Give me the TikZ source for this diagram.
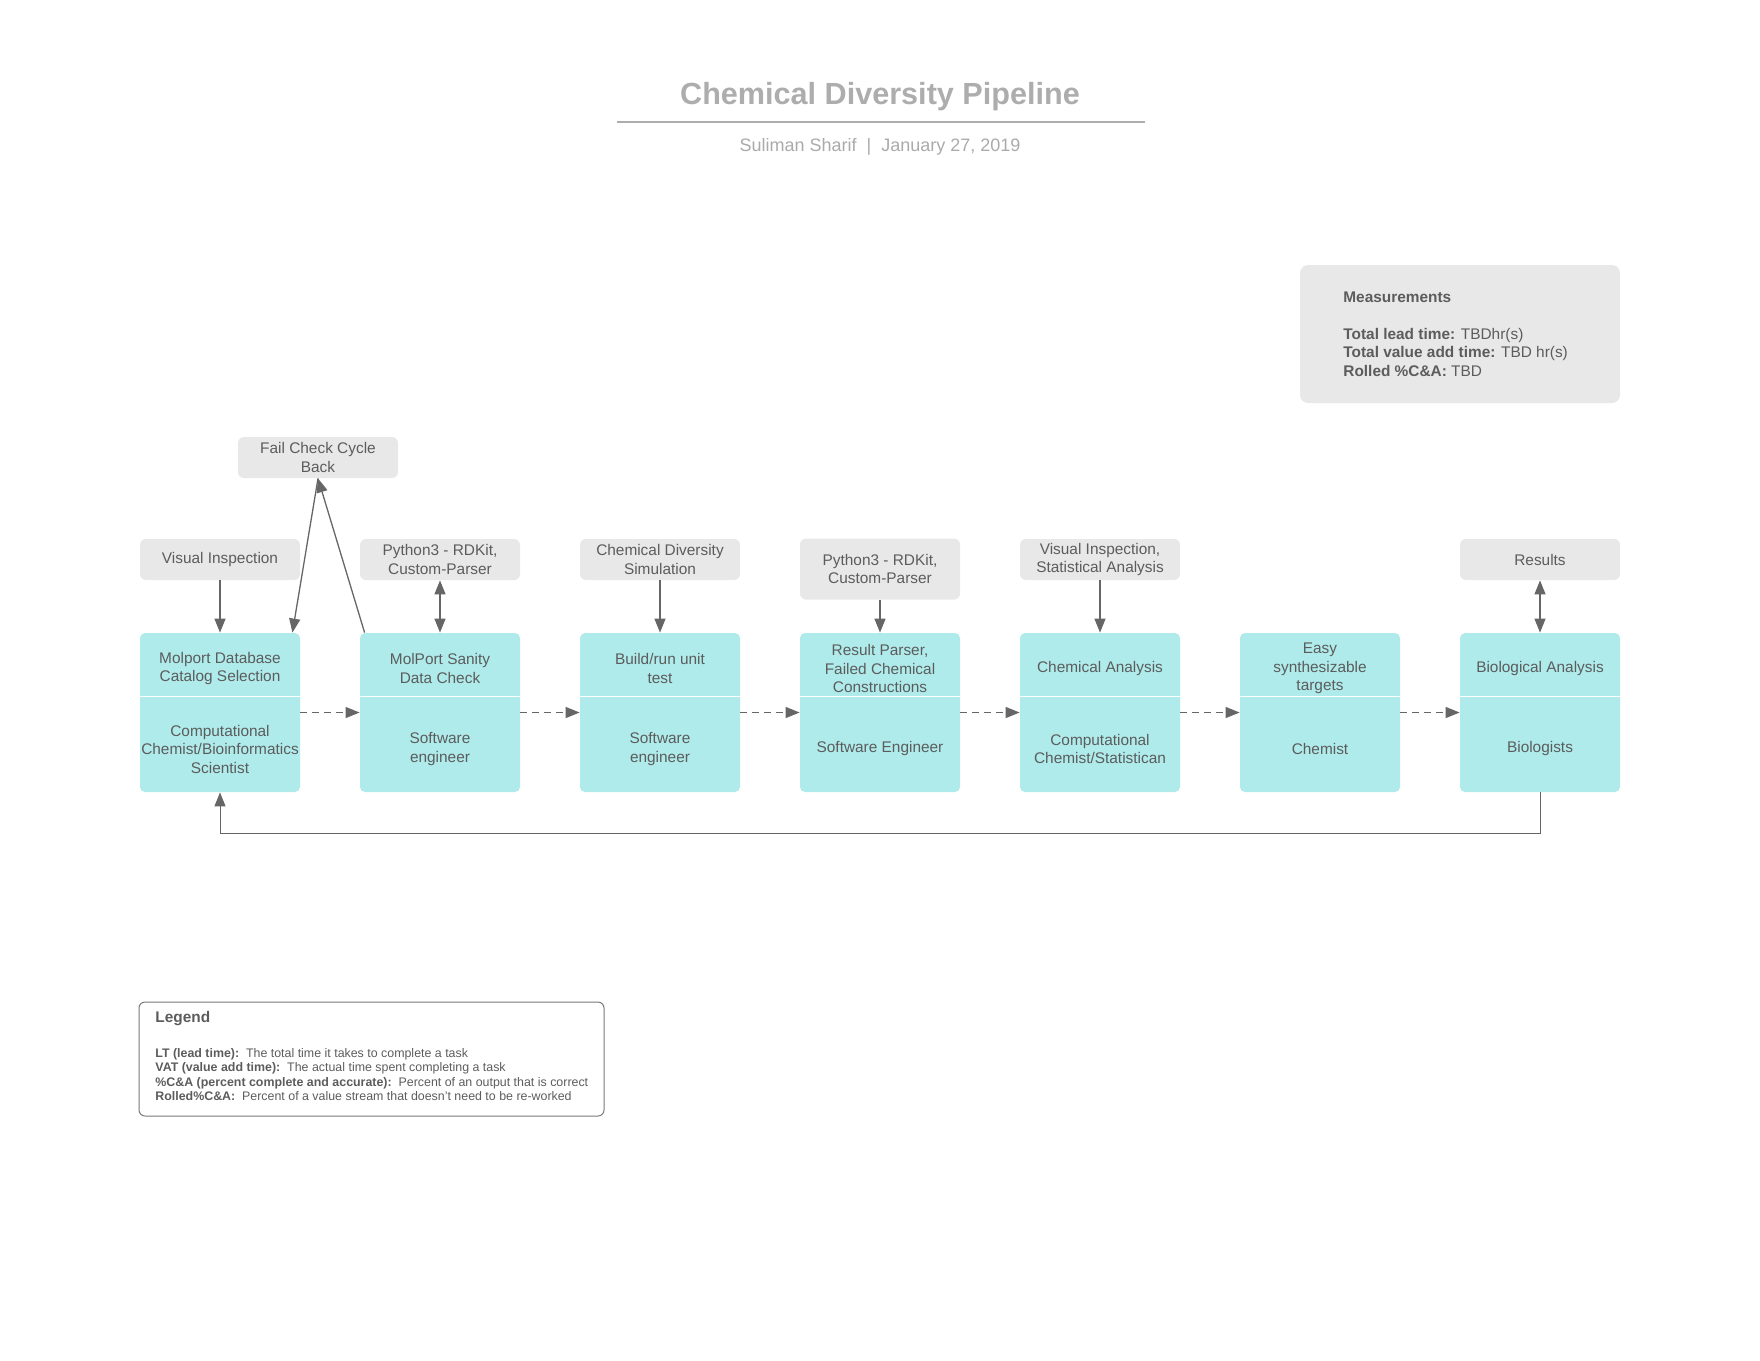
\documentclass[tikz,border=0pt]{standalone}
\usepackage{fontspec}
\setmainfont{Liberation Sans}
\usetikzlibrary{arrows.meta,calc}

\definecolor{boxteal}{RGB}{175,235,235}
\definecolor{infogray}{RGB}{232,232,232}
\definecolor{txtgray}{RGB}{92,92,92}
\definecolor{linegray}{RGB}{102,102,102}
\definecolor{titlegray}{RGB}{173,173,173}
\definecolor{subgray}{RGB}{170,170,170}
\definecolor{legendgray}{RGB}{120,120,120}

\newcommand{\boxfont}{\fontsize{7.7}{9.25}\selectfont}
\newcommand{\legfont}{\fontsize{6.2}{7.25}\selectfont}

\begin{document}
\begin{tikzpicture}[x=0.5pt,y=-0.5pt,
  every node/.style={text=txtgray,font=\boxfont,align=center},
  process/.style={fill=boxteal,rounded corners=2.5pt,minimum width=80pt,minimum height=79.5pt,inner sep=0pt},
  tool/.style={fill=infogray,rounded corners=3pt,minimum width=80pt,minimum height=20.5pt,inner sep=0pt},
  flow/.style={color=linegray,line width=0.65pt,-{Triangle[length=7pt,width=5.5pt]}},
  twoway/.style={flow,{Triangle[length=7pt,width=5.5pt]}-{Triangle[length=7pt,width=5.5pt]}},
  pass/.style={flow,dash pattern=on 3.5pt off 2.4pt},
  divider/.style={white,line width=0.75pt}]
\useasboundingbox (0,0) rectangle (1760,1360);

%Title
\node[font=\fontsize{15.3}{18}\selectfont\bfseries,text=titlegray] (title) at (880,97) {Chemical Diversity Pipeline};
\draw[titlegray,line width=1pt] (617,122) -- (1145,122);
\node[font=\fontsize{9}{11}\selectfont,text=subgray] (sub) at (880,147) {Suliman Sharif \ | \ January 27, 2019};

%Measurements
\node[fill=infogray,rounded corners=4pt,minimum width=160pt,minimum height=69pt] (meas) at (1460,334) {};
\node[anchor=west,align=left,inner sep=0pt] (meastext) at (1343,334) {\textbf{Measurements}\\[9.25pt]
\textbf{Total lead time:} TBDhr(s)\\
\textbf{Total value add time:} TBD hr(s)\\
\textbf{Rolled \%C\&A:} TBD};

%Process steps
\node[process] (b1) at (220,712.5) {};
\node[process] (b2) at (440,712.5) {};
\node[process] (b3) at (660,712.5) {};
\node[process] (b4) at (880,712.5) {};
\node[process] (b5) at (1100,712.5) {};
\node[process] (b6) at (1320,712.5) {};
\node[process] (b7) at (1540,712.5) {};

\draw[divider] ($(b1.north west)+(0,64)$) -- ($(b1.north east)+(0,64)$);
\draw[divider] ($(b2.north west)+(0,64)$) -- ($(b2.north east)+(0,64)$);
\draw[divider] ($(b3.north west)+(0,64)$) -- ($(b3.north east)+(0,64)$);
\draw[divider] ($(b4.north west)+(0,64)$) -- ($(b4.north east)+(0,64)$);
\draw[divider] ($(b5.north west)+(0,64)$) -- ($(b5.north east)+(0,64)$);
\draw[divider] ($(b6.north west)+(0,64)$) -- ($(b6.north east)+(0,64)$);
\draw[divider] ($(b7.north west)+(0,64)$) -- ($(b7.north east)+(0,64)$);

\node (t1) at (220,668.5) {Molport Database\\Catalog Selection};
\node (t2) at (440,668.5) {MolPort Sanity\\Data Check};
\node (t3) at (660,668.5) {Build/run unit\\test};
\node (t4) at (880,668.5) {Result Parser,\\Failed Chemical\\Constructions};
\node (t5) at (1100,668.5) {Chemical Analysis};
\node (t6) at (1320,668.5) {Easy\\synthesizable\\targets};
\node (t7) at (1540,668.5) {Biological Analysis};

\node (r1) at (220,749) {Computational\\Chemist/Bioinformatics\\Scientist};
\node (r2) at (440,749) {Software\\engineer};
\node (r3) at (660,749) {Software\\engineer};
\node (r4) at (880,749) {Software Engineer};
\node (r5) at (1100,749) {Computational\\Chemist/Statistican};
\node (r6) at (1320,749) {Chemist};
\node (r7) at (1540,749) {Biologists};

%Tools
\node[tool] (fail) at (318,457.5) {Fail Check Cycle\\Back};
\node[tool] (i1) at (220,559.5) {Visual Inspection};
\node[tool] (i2) at (440,559.5) {Python3 - RDKit,\\Custom-Parser};
\node[tool] (i3) at (660,559.5) {Chemical Diversity\\Simulation};
\node[tool,minimum height=30.5pt] (i4) at (880,569) {Python3 - RDKit,\\Custom-Parser};
\node[tool] (i5) at (1100,559.5) {Visual Inspection,\\Statistical Analysis};
\node[tool] (i7) at (1540,559.5) {Results};

\draw[flow] (i1.south) -- (b1.north);
\draw[twoway] (i2.south) -- (b2.north);
\draw[flow] (i3.south) -- (b3.north);
\draw[flow] (i4.south) -- (b4.north);
\draw[flow] (i5.south) -- (b5.north);
\draw[twoway] (i7.south) -- (b7.north);

\draw[flow] (fail.south) -- ($(b1.north east)+(-8,0)$);
\draw[flow] ($(b2.north west)+(5,0)$) -- (fail.south);

\draw[pass] (b1.east) -- (b2.west);
\draw[pass] (b2.east) -- (b3.west);
\draw[pass] (b3.east) -- (b4.west);
\draw[pass] (b4.east) -- (b5.west);
\draw[pass] (b5.east) -- (b6.west);
\draw[pass] (b6.east) -- (b7.west);

\draw[flow,line width=0.5pt] (b7.south) -- ++(0,41) -| (b1.south);

%Legend
\node[draw=legendgray,line width=0.5pt,rounded corners=3pt,minimum width=232.5pt,minimum height=57pt] (legend) at (371.5,1059) {};
\node[anchor=west,inner sep=0pt,font=\boxfont\bfseries] (legtitle) at (155,1019) {Legend};
\node[anchor=west,align=left,inner sep=0pt,font=\legfont] (legtext) at (155,1074.5) {\textbf{LT (lead time):}\ \ The total time it takes to complete a task\\
\textbf{VAT (value add time):}\ \ The actual time spent completing a task\\
\textbf{\%C\&A (percent complete and accurate):}\ \ Percent of an output that is correct\\
\textbf{Rolled\%C\&A:}\ \ Percent of a value stream that doesn't need to be re-worked};

\end{tikzpicture}
\end{document}
